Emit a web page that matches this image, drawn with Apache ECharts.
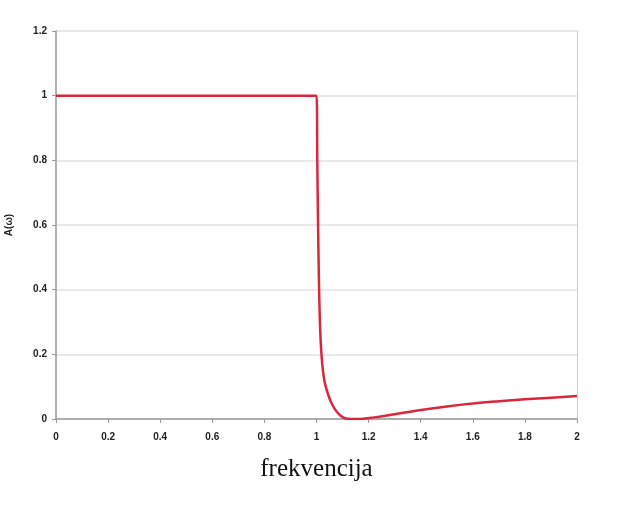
<!DOCTYPE html>
<html><head><meta charset="utf-8">
<script src="https://cdn.jsdelivr.net/npm/echarts@6/dist/echarts.min.js"></script>
<style>html,body{margin:0;padding:0;background:#fff}#c{width:639px;height:512px}</style>
</head><body><div id="c"></div>
<script>
const freq = [0, 0.5, 1.0, 1.003, 1.006, 1.01, 1.014, 1.02, 1.03, 1.045, 1.06, 1.08, 1.1, 1.12, 1.15, 1.18, 1.22, 1.27, 1.3, 1.4, 1.5, 1.6, 1.7, 1.8, 1.9, 2.0];
const amp  = [1, 1, 1, 0.8, 0.6, 0.4, 0.28, 0.19, 0.12, 0.075, 0.045, 0.02, 0.006, 0.001, 0, 0.001, 0.005, 0.011, 0.015, 0.028, 0.039, 0.048, 0.055, 0.061, 0.066, 0.071];
const xTicks = [0, 0.2, 0.4, 0.6, 0.8, 1, 1.2, 1.4, 1.6, 1.8, 2];
const yTicks = [0, 0.2, 0.4, 0.6, 0.8, 1, 1.2];

const chart = echarts.init(document.getElementById('c'));
const lbl = {fontFamily:'Arial, "Liberation Sans", sans-serif', fontSize:10, fontWeight:'bold', color:'#222'};
chart.setOption({
  animation:false,
  grid:{left:56, right:62, top:31, bottom:93, containLabel:false, outerBoundsMode:'none'},
  xAxis:{type:'value', min:xTicks[0], max:xTicks[xTicks.length-1], interval:0.2,
    name:'frekvencija', nameLocation:'middle', nameGap:38,
    nameTextStyle:{fontFamily:'"Liberation Serif","DejaVu Serif",serif', fontSize:25, color:'#111'},
    axisLine:{lineStyle:{color:'#999', width:1.5}},
    axisTick:{show:true, length:4, lineStyle:{color:'#999'}},
    splitLine:{show:false},
    axisLabel:Object.assign({margin:13, formatter:v=>String(+v.toFixed(1))}, lbl)},
  yAxis:[{type:'value', min:yTicks[0], max:yTicks[yTicks.length-1], interval:0.2,
    name:'A(ω)', nameLocation:'middle', nameGap:42, nameRotate:90,
    nameTextStyle:{fontFamily:'Arial, "Liberation Sans", sans-serif', fontSize:10, fontWeight:'bold', color:'#222'},
    axisLine:{show:true, lineStyle:{color:'#999', width:1.5}},
    axisTick:{show:true, length:4, lineStyle:{color:'#999'}},
    splitLine:{show:true, lineStyle:{color:'#e2e2e2', width:1.5}},
    axisLabel:Object.assign({margin:9, formatter:v=>String(+v.toFixed(1))}, lbl)},
   {type:'value', min:0, max:1.2, interval:0.2, position:'right',
    axisLine:{show:true, lineStyle:{color:'#ccc', width:1}},
    axisTick:{show:false}, axisLabel:{show:false}, splitLine:{show:false}}],
  series:[{type:'line', data:freq.map((f,i)=>[f, amp[i]]), showSymbol:false, smooth:0.4,
    lineStyle:{color:'#d9283c', width:2.5}}]
});
</script></body></html>
